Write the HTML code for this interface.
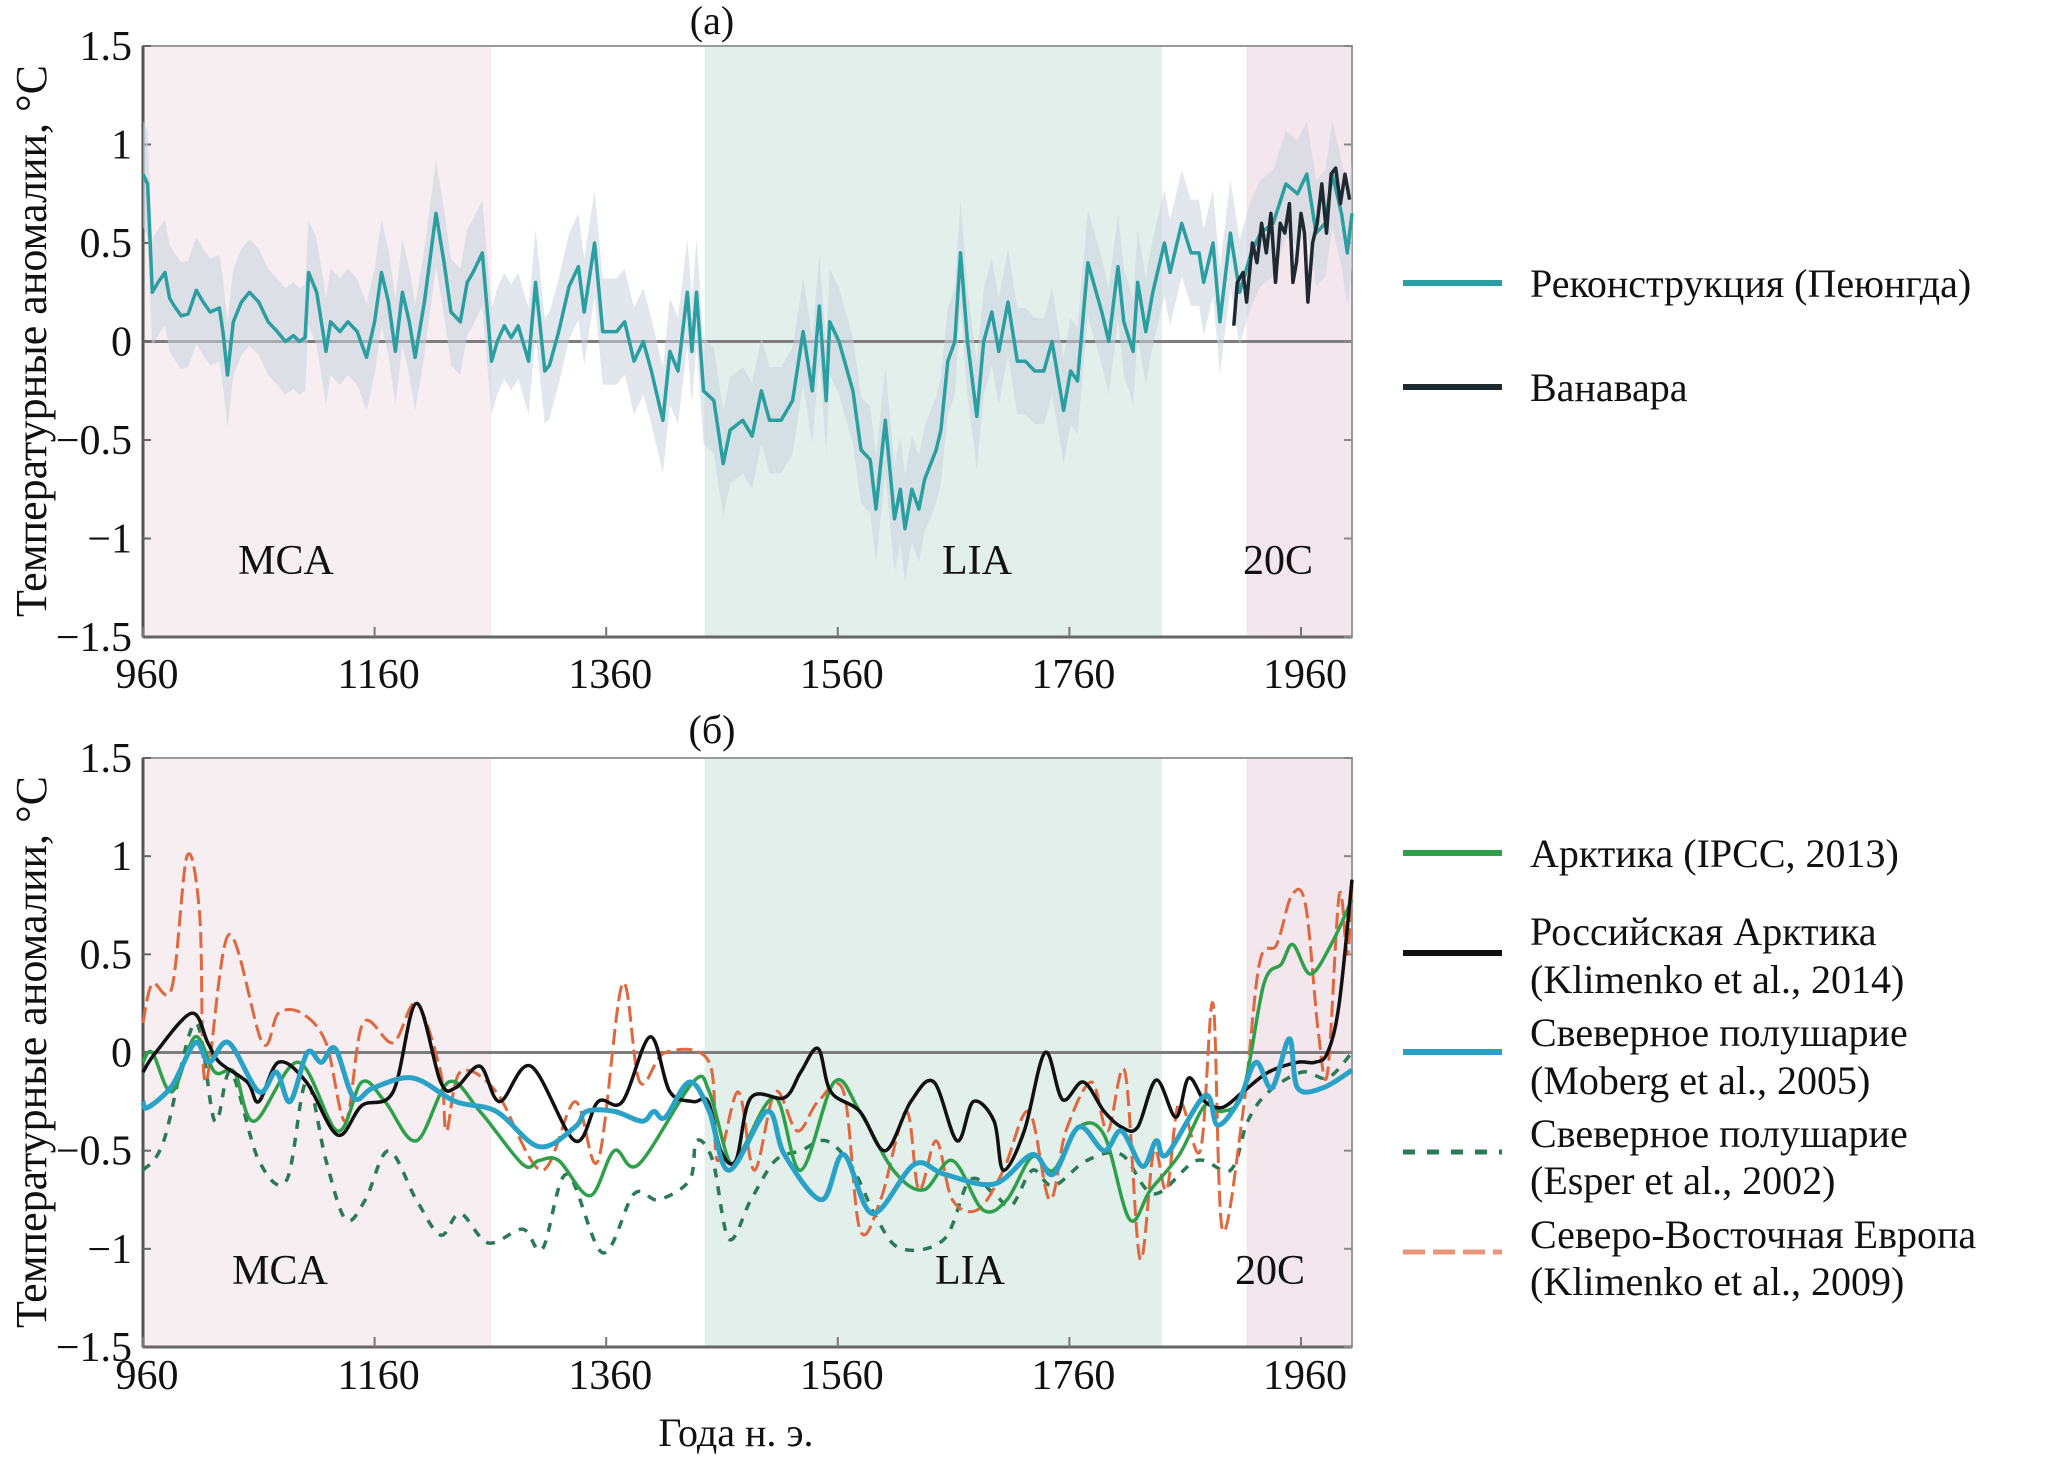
<!DOCTYPE html>
<html><head><meta charset="utf-8"><style>
html,body{margin:0;padding:0;background:#fff}
svg{display:block;font-family:"Liberation Serif","DejaVu Serif","Times New Roman",serif}
svg text{font-family:"Liberation Serif","DejaVu Serif","Times New Roman",serif;fill:#111}
</style></head><body>
<svg id="chart" width="2067" height="1463" viewBox="0 0 2067 1463" xmlns="http://www.w3.org/2000/svg" font-family="Liberation Serif, DejaVu Serif, serif"></svg>
<script>
// ---- data ----
const periodNames = ["MCA","LIA","20C"];
const periodStart = [960,1445,1913];
const periodEnd = [1261,1840,2004];
const yTicks = [1.5,1,0.5,0,-0.5,-1,-1.5];
const yTickLabels = ["1.5","1","0.5","0","\u22120.5","\u22121","\u22121.5"];
const xTicks = [960,1160,1360,1560,1760,1960];
const xTickLabels = ["960","1160","1360","1560","1760","1960"];

const reconYears = [960,964,968,973,979,983,987,993,999,1006,1012,1018,1026,1029,1033,1038,1045,1052,1060,1068,1076,1083,1090,1095,1100,1103,1110,1118,1122,1130,1137,1145,1153,1160,1166,1172,1178,1184,1190,1195,1203,1213,1220,1226,1234,1240,1245,1253,1261,1266,1272,1278,1284,1293,1299,1307,1311,1319,1328,1336,1341,1350,1357,1369,1376,1384,1392,1399,1409,1415,1422,1430,1434,1438,1444,1453,1461,1467,1478,1486,1494,1501,1511,1521,1530,1538,1544,1550,1553,1561,1573,1580,1588,1593,1601,1609,1614,1618,1624,1630,1635,1645,1649,1655,1661,1666,1672,1680,1686,1693,1699,1707,1715,1722,1730,1738,1745,1755,1761,1767,1776,1788,1794,1802,1807,1815,1819,1826,1832,1842,1847,1857,1865,1872,1876,1884,1890,1899,1907,1917,1925,1936,1947,1957,1965,1973,1981,1987,1995,2000,2004];
const reconVals = [0.85,0.8,0.25,0.3,0.35,0.22,0.18,0.13,0.14,0.26,0.2,0.15,0.17,0.05,-0.17,0.1,0.2,0.25,0.2,0.1,0.05,0.0,0.03,0.0,0.02,0.35,0.25,-0.05,0.1,0.05,0.1,0.05,-0.08,0.1,0.35,0.2,-0.05,0.25,0.1,-0.08,0.2,0.65,0.4,0.15,0.1,0.3,0.35,0.45,-0.1,0.0,0.08,0.02,0.08,-0.1,0.3,-0.15,-0.12,0.05,0.28,0.38,0.15,0.5,0.05,0.05,0.1,-0.1,0.0,-0.15,-0.4,-0.05,-0.15,0.25,-0.05,0.25,-0.25,-0.3,-0.62,-0.45,-0.4,-0.48,-0.25,-0.4,-0.4,-0.3,0.05,-0.25,0.18,-0.3,0.1,0.0,-0.25,-0.55,-0.6,-0.85,-0.4,-0.9,-0.75,-0.95,-0.75,-0.85,-0.7,-0.55,-0.45,-0.1,0.0,0.45,0.0,-0.38,0.0,0.15,-0.05,0.2,-0.1,-0.1,-0.15,-0.15,0.0,-0.35,-0.15,-0.2,0.4,0.15,0.0,0.38,0.1,-0.05,0.3,0.05,0.25,0.5,0.35,0.6,0.45,0.45,0.3,0.5,0.1,0.55,0.25,0.45,0.55,0.6,0.8,0.75,0.85,0.55,0.6,0.85,0.65,0.45,0.65];
const reconSpread = 0.27;

const vanYears = [1902,1905,1910,1913,1918,1922,1926,1930,1934,1938,1942,1946,1950,1953,1956,1960,1963,1966,1970,1974,1978,1982,1986,1990,1994,1998,2002];
const vanVals = [0.08,0.3,0.35,0.2,0.5,0.4,0.6,0.45,0.65,0.3,0.6,0.55,0.7,0.3,0.4,0.65,0.55,0.2,0.5,0.6,0.8,0.55,0.85,0.88,0.7,0.85,0.72];

const arcYears = [960,968,985,1005,1022,1039,1056,1094,1128,1149,1169,1196,1224,1251,1288,1302,1319,1346,1367,1388,1435,1449,1466,1477,1506,1528,1557,1579,1608,1634,1659,1685,1706,1728,1746,1768,1790,1812,1830,1855,1877,1892,1910,1928,1943,1953,1968,1986,2004];
const arcVals = [-0.05,0.0,-0.2,0.08,-0.1,-0.1,-0.35,-0.05,-0.4,-0.15,-0.25,-0.45,-0.15,-0.3,-0.57,-0.55,-0.55,-0.73,-0.5,-0.57,-0.15,-0.2,-0.55,-0.5,-0.23,-0.6,-0.15,-0.3,-0.6,-0.7,-0.55,-0.8,-0.75,-0.53,-0.6,-0.38,-0.42,-0.85,-0.7,-0.52,-0.27,-0.3,-0.2,0.35,0.45,0.55,0.4,0.55,0.78];

const rusYears = [960,971,1002,1016,1026,1050,1060,1077,1101,1128,1149,1176,1196,1217,1230,1251,1268,1295,1333,1353,1374,1398,1415,1435,1448,1459,1472,1485,1514,1528,1543,1554,1579,1601,1623,1643,1663,1677,1695,1703,1721,1739,1754,1772,1790,1805,1819,1835,1852,1863,1877,1892,1910,1932,1957,1972,1983,1993,2004];
const rusVals = [-0.1,0.0,0.2,0.05,-0.05,-0.15,-0.25,-0.05,-0.15,-0.42,-0.27,-0.2,0.25,-0.15,-0.18,-0.07,-0.25,-0.07,-0.45,-0.25,-0.25,0.08,-0.2,-0.25,-0.25,-0.5,-0.55,-0.23,-0.23,-0.1,0.02,-0.2,-0.3,-0.5,-0.25,-0.15,-0.45,-0.25,-0.35,-0.6,-0.4,0.0,-0.24,-0.15,-0.3,-0.38,-0.38,-0.14,-0.33,-0.13,-0.25,-0.28,-0.2,-0.1,-0.05,-0.05,0.0,0.25,0.88];

const mobYears = [960,964,985,1005,1017,1034,1060,1075,1087,1102,1114,1126,1142,1159,1193,1230,1265,1302,1333,1343,1367,1391,1401,1411,1432,1449,1466,1499,1514,1546,1565,1590,1626,1652,1695,1728,1746,1768,1790,1805,1823,1835,1844,1877,1888,1906,1921,1935,1950,1957,1979,2004];
const mobVals = [-0.25,-0.28,-0.17,0.05,-0.05,0.05,-0.2,-0.1,-0.25,0.0,-0.05,0.02,-0.23,-0.18,-0.13,-0.25,-0.3,-0.48,-0.38,-0.3,-0.3,-0.35,-0.3,-0.33,-0.15,-0.3,-0.6,-0.3,-0.52,-0.75,-0.52,-0.82,-0.57,-0.62,-0.67,-0.52,-0.62,-0.38,-0.5,-0.4,-0.58,-0.45,-0.52,-0.22,-0.37,-0.25,-0.05,-0.18,0.07,-0.18,-0.18,-0.09];

const espYears = [960,978,1005,1022,1036,1060,1084,1101,1118,1135,1152,1172,1196,1217,1234,1258,1288,1305,1326,1357,1384,1405,1432,1438,1452,1466,1485,1506,1528,1550,1572,1594,1615,1652,1674,1695,1710,1728,1746,1775,1805,1833,1870,1899,1914,1932,1961,1983,2004];
const espVals = [-0.6,-0.45,0.15,-0.35,-0.1,-0.55,-0.65,-0.15,-0.55,-0.85,-0.75,-0.5,-0.75,-0.93,-0.82,-0.97,-0.9,-1.0,-0.62,-1.02,-0.72,-0.75,-0.65,-0.45,-0.55,-0.95,-0.75,-0.55,-0.5,-0.45,-0.58,-0.85,-1.0,-0.95,-0.65,-0.72,-0.78,-0.6,-0.68,-0.55,-0.52,-0.72,-0.55,-0.6,-0.35,-0.2,-0.1,-0.13,0.0];

const neeYears = [960,968,985,998,1009,1014,1034,1063,1077,1097,1118,1135,1150,1176,1196,1217,1222,1234,1265,1304,1333,1353,1374,1389,1411,1449,1456,1474,1488,1506,1525,1543,1565,1579,1597,1619,1630,1645,1659,1681,1703,1725,1743,1757,1779,1793,1808,1821,1833,1844,1855,1873,1884,1892,1910,1924,1939,1952,1964,1975,1983,1993,2000,2004];
const neeVals = [0.15,0.35,0.33,1.0,0.7,-0.15,0.6,0.05,0.2,0.2,0.05,-0.35,0.15,0.05,0.25,-0.1,-0.4,-0.1,-0.2,-0.6,-0.25,-0.55,0.35,-0.15,0.0,-0.05,-0.55,-0.2,-0.6,-0.2,-0.4,-0.25,-0.2,-0.9,-0.75,-0.3,-0.7,-0.45,-0.75,-0.8,-0.6,-0.3,-0.75,-0.4,-0.15,-0.4,-0.1,-1.05,-0.5,-0.7,-0.25,-0.5,0.25,-0.9,-0.3,0.45,0.55,0.8,0.75,0.1,-0.1,0.8,0.5,0.85];

// ---- layout ----
const NS="http://www.w3.org/2000/svg";
const svg=document.getElementById('chart');
const X0=143, X1=1352, Y0YEAR=960, PXYR=1.158;
const FONT='"Liberation Serif","DejaVu Serif",serif';
function xs(yr){return X0+(yr-Y0YEAR)*PXYR;}
function mk(tag,attrs,parent){const e=document.createElementNS(NS,tag);for(const k in attrs)e.setAttribute(k,attrs[k]);if(tag==='text')e.style.fontFamily=FONT;(parent||svg).appendChild(e);return e;}
function linePath(xsArr,ysArr,ysc){let d='';for(let i=0;i<xsArr.length;i++){d+=(i?'L':'M')+xs(xsArr[i]).toFixed(1)+','+ysc(ysArr[i]).toFixed(1);}return d;}
function smoothPath(xsArr,ysArr,ysc){const p=xsArr.map((x,i)=>[xs(x),ysc(ysArr[i])]);let d='M'+p[0][0].toFixed(1)+','+p[0][1].toFixed(1);for(let i=0;i<p.length-1;i++){const a=p[Math.max(0,i-1)],b=p[i],c=p[i+1],e=p[Math.min(p.length-1,i+2)];const c1=[b[0]+(c[0]-a[0])/6,b[1]+(c[1]-a[1])/6],c2=[c[0]-(e[0]-b[0])/6,c[1]-(e[1]-b[1])/6];d+='C'+c1[0].toFixed(1)+','+c1[1].toFixed(1)+' '+c2[0].toFixed(1)+','+c2[1].toFixed(1)+' '+c[0].toFixed(1)+','+c[1].toFixed(1);}return d;}

const panels=[{top:46,bot:637,label:'(а)',ly:34,xly:688,ytc:341},{top:758,bot:1347,label:'(б)',ly:743,xly:1389,ytc:1052}];
const shadeCols=['#f6eef1','#e3efeb','#f3e6ec'];

panels.forEach((P,pi)=>{
  const unit=(P.bot-P.top)/3;
  const ys=v=>P.top+(1.5-v)*unit;
  P.ys=ys;
  const g=mk('g',{});
  
  
  periodNames.forEach((n,i)=>{
    const r=mk('rect',{x:xs(periodStart[i]),y:P.top,width:Math.min(xs(periodEnd[i]),X1)-xs(periodStart[i]),height:P.bot-P.top,fill:shadeCols[i]},g);
    
    
  });
  const z=mk('line',{x1:X0,x2:X1,y1:ys(0),y2:ys(0),stroke:'#7d7d7d','stroke-width':3},g);
  
  
  const fr=mk('rect',{x:X0,y:P.top,width:X1-X0,height:P.bot-P.top,fill:'none',stroke:'#9a9a9a','stroke-width':2},g);
  
  
  mk('line',{x1:X0,x2:X0,y1:P.top,y2:P.bot,stroke:'#555','stroke-width':3},g);
  mk('line',{x1:X0,x2:X1,y1:P.bot,y2:P.bot,stroke:'#666','stroke-width':3},g);
  yTicks.forEach((t,i)=>{
    mk('line',{x1:X0,x2:X0+8,y1:ys(t),y2:ys(t),stroke:'#666','stroke-width':2},g);
    mk('line',{x1:X1-8,x2:X1,y1:ys(t),y2:ys(t),stroke:'#888','stroke-width':2},g);
    const tx=mk('text',{x:132,y:ys(t)+14,'text-anchor':'end','font-size':42},g);
    tx.textContent=yTickLabels[i];
    
    
  });
  xTicks.forEach((t,i)=>{
    mk('line',{x1:xs(t),x2:xs(t),y1:P.bot-10,y2:P.bot,stroke:'#777','stroke-width':2},g);
    const tx=mk('text',{x:xs(t)+4,y:P.xly,'text-anchor':'middle','font-size':42},g);
    tx.textContent=xTickLabels[i];
    
    
  });
  const tt=mk('text',{x:712,y:P.ly,'text-anchor':'middle','font-size':40},g);
  tt.textContent=P.label;
  
  
  const yt=mk('text',{x:0,y:0,'text-anchor':'middle','font-size':44,transform:'translate(46,'+P.ytc+') rotate(-90)'},g);
  yt.textContent='Температурные аномалии, °C';
  
  
  const plx=[286,977,1278], ply=pi===0?574:1284;
  const plxb=[280,970,1270];
  periodNames.forEach((n,i)=>{
    const t=mk('text',{x:pi===0?plx[i]:plxb[i],y:ply,'text-anchor':'middle','font-size':42},g);
    t.textContent=n;
    
    
  });
});

// panel a series
(function(){
  const ys=panels[0].ys;
  let up='',lo='';
  for(let i=0;i<reconYears.length;i++){up+=(i?'L':'M')+xs(reconYears[i]).toFixed(1)+','+ys(reconVals[i]+reconSpread).toFixed(1);}
  for(let i=reconYears.length-1;i>=0;i--){lo+='L'+xs(reconYears[i]).toFixed(1)+','+ys(reconVals[i]-reconSpread).toFixed(1);}
  const band=mk('path',{d:up+lo+'Z',fill:'#c9d3de','fill-opacity':0.55,stroke:'none'});
  
  
  const r=mk('path',{d:linePath(reconYears,reconVals,ys),fill:'none',stroke:'#2a9ea0','stroke-width':3.5,'stroke-linejoin':'round'});
  
  
  const v=mk('path',{d:linePath(vanYears,vanVals,ys),fill:'none',stroke:'#1f2a30','stroke-width':3.5,'stroke-linejoin':'round'});
  
  
})();

// panel b series
const bSeries=[
  {n:'esper-nh-line',y:espYears,v:espVals,c:'#2a7a55',w:3.5,da:'9 9'},
  {n:'ne-europe-line',y:neeYears,v:neeVals,c:'#e0683f',w:3,da:'16 6'},
  {n:'arctic-ipcc-line',y:arcYears,v:arcVals,c:'#2fa04a',w:3.5,da:''},
  {n:'russian-arctic-line',y:rusYears,v:rusVals,c:'#111111',w:3.5,da:''},
  {n:'moberg-nh-line',y:mobYears,v:mobVals,c:'#2aa2c8',w:5,da:''}
];
bSeries.forEach(s=>{
  const p=mk('path',{d:smoothPath(s.y,s.v,panels[1].ys),fill:'none',stroke:s.c,'stroke-width':s.w,'stroke-dasharray':s.da,'stroke-linejoin':'round'});
  
  
});

const xt=mk('text',{x:736,y:1446,'text-anchor':'middle','font-size':40});
xt.textContent='Года н. э.';



function legend(y,color,da,lines,tys,name,w){
  const g=mk('g',{});
  
  
  mk('line',{x1:1403,x2:1502,y1:y,y2:y,stroke:color,'stroke-width':w||6,'stroke-dasharray':da||''},g);
  lines.forEach((t,i)=>{const tx=mk('text',{x:1530,y:tys[i]+14,'font-size':40},g);tx.textContent=t;});
}
legend(283,'#2a9ea0','',['Реконструкция (Пеюнгда)'],[283],'legend-entry-reconstruction');
legend(387,'#1f2a30','',['Ванавара'],[387],'legend-entry-vanavara');
legend(853,'#2fa04a','',['Арктика (IPCC, 2013)'],[853],'legend-entry-arctic');
legend(953,'#111','',['Российская Арктика','(Klimenko et al., 2014)'],[931,979],'legend-entry-russian-arctic');
legend(1052,'#2aa2c8','',['Свеверное полушарие','(Moberg et al., 2005)'],[1032,1080],'legend-entry-moberg');
legend(1152,'#2a7a55','12 12',['Свеверное полушарие','(Esper et al., 2002)'],[1133,1180],'legend-entry-esper',5);
legend(1252,'#e8957a','22 8',['Северо-Восточная Европа','(Klimenko et al., 2009)'],[1234,1281],'legend-entry-ne-europe',5);
</script>
</body></html>
